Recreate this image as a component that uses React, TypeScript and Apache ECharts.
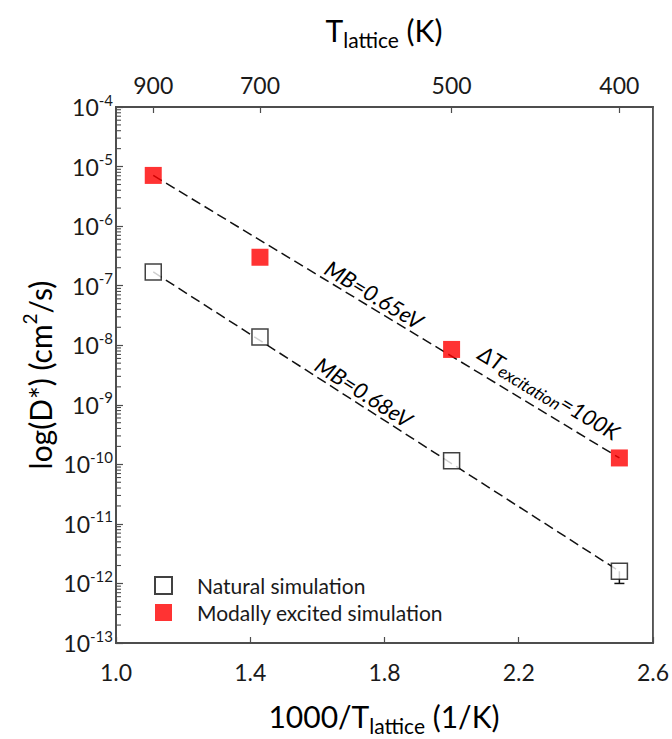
import React, { useEffect, useRef } from "react";
import * as echarts from "echarts";

// ---- data ----
const temperaturesK = [900, 700, 500, 400];
const inverseT = [1.111, 1.429, 2.0, 2.5]; // 1000/T (1/K)
const naturalD = [1.7e-7, 1.38e-8, 1.15e-10, 1.6e-12];
const naturalErrLow = [null, null, null, 1.0e-12];
const modalD = [7.1e-6, 3.0e-7, 8.5e-9, 1.28e-10];
const fitX = [1.111, 2.5];
const fitNaturalD = [1.7e-7, 1.6e-12];
const fitModalD = [7.1e-6, 1.28e-10];
const xTickValues = [1.0, 1.4, 1.8, 2.2, 2.6];
const xMin = 1.0;
const xMax = 2.6;
const yMinExp = -13;
const yMaxExp = -4;
const seriesNames = ["Natural simulation", "Modally excited simulation"];
const annotations = [
  { text: "{t|MB=0.65eV}", x: 1.7695, y: 7.1e-8, fit: "modal" },
  { text: "{t|MB=0.68eV}", x: 1.739, y: 1.64e-9, fit: "natural" },
  { text: "{t|\u0394T}{s|excitation}{t|=100K}", x: 2.2906, y: 1.61e-9, fit: "modal" },
];

const FONT = "Lato, 'Open Sans', sans-serif";
const TEXT = "#1a1a1a";
const AXIS = "#4d4d4d";

// minor tick positions for log decades (2..9 x 10^e)
const minorTickValues: number[] = [];
for (let e = yMinExp; e < yMaxExp; e++) {
  for (let k = 2; k <= 9; k++) minorTickValues.push(k * Math.pow(10, e));
}

export default function App() {
  const ref = useRef<HTMLDivElement>(null);
  useEffect(() => {
    if (!ref.current) return;
    const chart = echarts.init(ref.current, undefined, { renderer: "svg" });
    const option: any = {
      animation: false,
      backgroundColor: "#ffffff",
      grid: {
        left: 116,
        right: 19,
        top: 107,
        bottom: 96,
        show: true,
        borderColor: AXIS,
        borderWidth: 1.8,
        backgroundColor: "transparent",
      },
      legend: {
        left: 149,
        top: 570,
        padding: 5,
        orient: "vertical",
        itemWidth: 17,
        itemHeight: 17,
        itemGap: 6,
        icon: "rect",
        data: seriesNames,
        textStyle: {
          fontFamily: FONT,
          fontSize: 21,
          color: TEXT,
          padding: [0, 0, 0, 20],
        },
      },
      xAxis: [
        {
          type: "value",
          min: xMin,
          max: xMax,
          interval: 0.4,
          position: "bottom",
          axisLine: { show: true, lineStyle: { color: AXIS, width: 1.8 } },
          axisTick: {
            show: true,
            inside: true,
            length: 6,
            lineStyle: { color: AXIS, width: 1.2 },
            customValues: xTickValues,
          },
          axisLabel: {
            customValues: xTickValues,
            formatter: (v: number) => v.toFixed(1),
            fontFamily: FONT,
            fontSize: 23,
            color: TEXT,
            margin: 17,
          },
          splitLine: { show: false },
        },
        {
          type: "value",
          min: xMin,
          max: xMax,
          position: "top",
          axisLine: { show: true, lineStyle: { color: AXIS, width: 1.8 } },
          axisTick: {
            show: true,
            inside: true,
            length: 6,
            lineStyle: { color: AXIS, width: 1.2 },
            customValues: inverseT,
          },
          axisLabel: {
            customValues: inverseT,
            formatter: (v: number) => {
              let best = 0;
              inverseT.forEach((x, i) => {
                if (Math.abs(x - v) < Math.abs(inverseT[best] - v)) best = i;
              });
              return String(temperaturesK[best]);
            },
            fontFamily: FONT,
            fontSize: 23,
            color: TEXT,
            margin: 11,
          },
          splitLine: { show: false },
        },
      ],
      yAxis: [
        {
          type: "log",
          logBase: 10,
          min: Math.pow(10, yMinExp),
          max: Math.pow(10, yMaxExp),
          interval: 1,
          position: "left",
          axisLine: { show: true, lineStyle: { color: AXIS, width: 1.8 } },
          axisTick: {
            show: true,
            inside: true,
            length: 7,
            lineStyle: { color: AXIS, width: 1.2 },
          },
          axisLabel: {
            margin: 3,
            formatter: (v: number) => `{b|10}{s|${Math.round(Math.log10(v))}}`,
            rich: {
              b: { fontFamily: FONT, fontSize: 23, color: TEXT, lineHeight: 30 },
              s: {
                fontFamily: FONT,
                fontSize: 15,
                color: TEXT,
                lineHeight: 18,
                verticalAlign: "top",
              },
            },
          },
          splitLine: { show: false },
        },
      ],
      series: [
        {
          name: "minorTicks",
          type: "custom",
          xAxisIndex: 0,
          yAxisIndex: 0,
          silent: true,
          clip: false,
          z: 3,
          data: minorTickValues.map((v) => [xMin, v]),
          renderItem: (params: any, api: any) => {
            const p = api.coord([api.value(0), api.value(1)]);
            return {
              type: "line",
              shape: { x1: p[0], y1: p[1], x2: p[0] + 5, y2: p[1] },
              style: { stroke: AXIS, lineWidth: 1.1 },
            };
          },
        },
        {
          name: "fitNatural",
          type: "line",
          xAxisIndex: 0,
          yAxisIndex: 0,
          data: fitX.map((x, i) => [x, fitNaturalD[i]]),
          symbol: "none",
          lineStyle: { color: "#111", width: 1.5, type: [10, 5] },
          z: 1,
          silent: true,
        },
        {
          name: "fitModal",
          type: "line",
          xAxisIndex: 0,
          yAxisIndex: 0,
          data: fitX.map((x, i) => [x, fitModalD[i]]),
          symbol: "none",
          lineStyle: { color: "#111", width: 1.5, type: [10, 5] },
          z: 1,
          silent: true,
        },
        {
          name: "errNatural",
          type: "custom",
          xAxisIndex: 0,
          yAxisIndex: 0,
          z: 2,
          data: inverseT
            .map((x, i) => [x, naturalD[i], naturalErrLow[i]])
            .filter((d) => d[2] != null),
          renderItem: (params: any, api: any) => {
            const top = api.coord([api.value(0), api.value(1)]);
            const bot = api.coord([api.value(0), api.value(2)]);
            return {
              type: "group",
              children: [
                {
                  type: "line",
                  shape: { x1: top[0], y1: top[1], x2: bot[0], y2: bot[1] },
                  style: { stroke: "#111", lineWidth: 1.5 },
                },
                {
                  type: "line",
                  shape: { x1: bot[0] - 5, y1: bot[1], x2: bot[0] + 5, y2: bot[1] },
                  style: { stroke: "#111", lineWidth: 1.5 },
                },
              ],
            };
          },
        },
        {
          name: seriesNames[0],
          type: "scatter",
          xAxisIndex: 0,
          yAxisIndex: 0,
          data: inverseT.map((x, i) => [x, naturalD[i]]),
          symbol: "rect",
          symbolSize: 16,
          itemStyle: { color: "#ffffff", borderColor: "#111", borderWidth: 1.5 },
          z: 5,
        },
        {
          name: seriesNames[1],
          type: "scatter",
          xAxisIndex: 0,
          yAxisIndex: 0,
          data: inverseT.map((x, i) => [x, modalD[i]]),
          symbol: "rect",
          symbolSize: 17,
          itemStyle: { color: "#ff0000" },
          z: 5,
        },
      ],
    };
    chart.setOption(option);

    const toPx = (x: number, y: number) =>
      chart.convertToPixel({ xAxisIndex: 0, yAxisIndex: 0 }, [x, y]) as number[];
    const angleOf = (d: number[]) => {
      const p0 = toPx(fitX[0], d[0]);
      const p1 = toPx(fitX[1], d[1]);
      return -Math.atan2(p1[1] - p0[1], p1[0] - p0[0]);
    };
    const annRich = {
      t: { fontFamily: FONT, fontSize: 22, fontStyle: "italic", color: TEXT, lineHeight: 28 },
      s: {
        fontFamily: FONT,
        fontSize: 17,
        fontStyle: "italic",
        color: TEXT,
        lineHeight: 16,
        verticalAlign: "bottom",
      },
    };
    const titleRich = {
      m: { fontFamily: FONT, fontSize: 30, color: TEXT, lineHeight: 40 },
      sub: { fontFamily: FONT, fontSize: 21, color: TEXT, lineHeight: 20, verticalAlign: "bottom" },
      sup: { fontFamily: FONT, fontSize: 19, color: TEXT, lineHeight: 26, verticalAlign: "top" },
    };
    const graphics: any[] = annotations.map((a) => {
      const p = toPx(a.x, a.y);
      return {
        type: "text",
        x: p[0],
        y: p[1],
        rotation: angleOf(a.fit === "modal" ? fitModalD : fitNaturalD),
        style: { text: a.text, rich: annRich, align: "center", verticalAlign: "middle" },
        z: 10,
      };
    });
    graphics.push(
      {
        type: "text",
        x: 384,
        y: 30,
        style: {
          text: "{m|T}{sub|lattice}{m| (K)}",
          rich: titleRich,
          align: "center",
          verticalAlign: "middle",
        },
      },
      {
        type: "text",
        x: 384,
        y: 716,
        style: {
          text: "{m|1000/T}{sub|lattice}{m| (1/K)}",
          rich: titleRich,
          align: "center",
          verticalAlign: "middle",
        },
      },
      {
        type: "text",
        x: 40,
        y: 375,
        rotation: Math.PI / 2,
        style: {
          text: "{m|log(D*) (cm}{sup|2}{m|/s)}",
          rich: titleRich,
          align: "center",
          verticalAlign: "middle",
        },
      }
    );
    chart.setOption({ graphic: graphics });

    return () => chart.dispose();
  }, []);
  return (
    <div
      ref={ref}
      style={{ position: "fixed", left: 0, top: 0, width: 672, height: 739, background: "#fff" }}
    />
  );
}
